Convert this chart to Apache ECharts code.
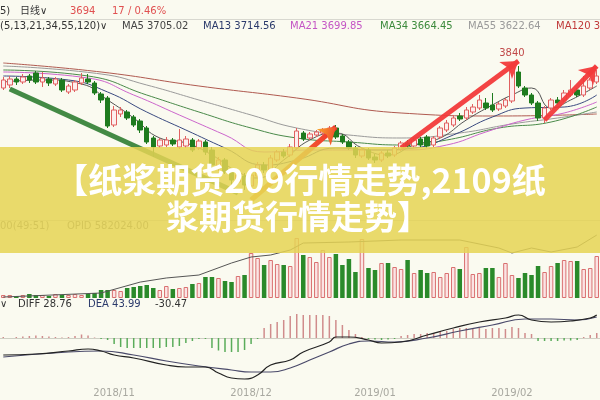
<!DOCTYPE html>
<html><head><meta charset="utf-8">
<script src="https://cdn.jsdelivr.net/npm/echarts@6/dist/echarts.min.js"></script>
<style>html,body{margin:0;padding:0;background:#fafaf0;}#c{width:600px;height:400px;}</style>
</head><body><div id="c"></div>
<script>
// ---- data ----
const tickIndex = [17, 38, 57, 78];
const tickLabels = ['2018/11', '2018/12', '2019/01', '2019/02'];
// [open, close, low, high]
const candles = [
[3710,3750,3700,3765],[3725,3755,3710,3770],[3755,3740,3725,3765],[3740,3765,3730,3780],
[3770,3750,3735,3780],[3785,3740,3730,3795],[3740,3760,3715,3790],[3755,3735,3720,3765],
[3730,3755,3720,3765],[3750,3700,3690,3760],[3690,3720,3680,3730],[3700,3740,3690,3750],
[3735,3760,3725,3785],[3755,3740,3730,3780],[3735,3685,3675,3745],[3680,3650,3635,3690],
[3660,3520,3510,3670],[3525,3600,3515,3620],[3580,3600,3565,3615],[3590,3560,3550,3600],
[3565,3525,3515,3575],[3545,3500,3485,3555],[3510,3440,3430,3520],[3460,3415,3365,3470],
[3420,3450,3410,3460],[3425,3450,3415,3465],[3450,3430,3420,3460],[3415,3450,3405,3505],
[3420,3455,3410,3470],[3450,3400,3390,3460],[3410,3445,3400,3455],[3440,3390,3375,3450],
[3400,3325,3300,3415],[3310,3350,3295,3365],[3350,3290,3280,3360],[3290,3250,3225,3300],
[3240,3275,3230,3290],[3270,3225,3200,3285],[3220,3275,3190,3290],[3270,3325,3260,3340],
[3325,3300,3285,3340],[3300,3360,3290,3375],[3350,3390,3340,3400],[3390,3370,3360,3405],
[3375,3415,3365,3430],[3410,3495,3400,3510],[3485,3455,3445,3495],[3460,3480,3450,3490],
[3475,3490,3465,3500],[3485,3500,3475,3510],[3495,3510,3485,3520],[3510,3465,3455,3525],
[3470,3440,3430,3480],[3440,3410,3400,3450],[3410,3375,3360,3420],[3370,3400,3360,3410],
[3400,3360,3350,3410],[3365,3350,3335,3380],[3350,3385,3340,3395],[3385,3370,3360,3400],
[3375,3410,3365,3420],[3405,3435,3395,3445],[3435,3420,3410,3450],[3420,3450,3410,3460],
[3455,3425,3415,3465],[3465,3420,3410,3475],[3425,3460,3415,3470],[3465,3510,3455,3520],
[3500,3535,3490,3550],[3525,3560,3515,3575],[3570,3555,3545,3585],[3560,3600,3550,3615],
[3590,3615,3580,3630],[3610,3650,3600,3675],[3635,3610,3600,3660],[3625,3600,3590,3685],
[3605,3630,3595,3640],[3620,3650,3610,3660],[3645,3810,3635,3840],[3790,3720,3710,3820],
[3710,3675,3665,3720],[3675,3635,3625,3685],[3635,3560,3545,3645],[3560,3610,3535,3620],
[3610,3650,3600,3660],[3650,3635,3625,3665],[3650,3685,3640,3700],[3675,3700,3665,3750],
[3700,3675,3665,3710],[3675,3720,3665,3770],[3710,3750,3700,3760],[3740,3770,3730,3800]
];
// moving averages: [index, value]
const ma5 = [[0,3740],[6,3750],[12,3730],[16,3650],[20,3560],[24,3460],[28,3435],[32,3375],[36,3290],[39,3260],[43,3350],[47,3450],[51,3485],[55,3410],[59,3375],[63,3425],[67,3460],[71,3550],[75,3625],[78,3675],[81,3710],[84,3610],[87,3650],[91,3720]];
const ma13 = [[0,3770],[10,3750],[16,3690],[22,3590],[28,3500],[34,3410],[40,3325],[45,3350],[51,3410],[57,3400],[63,3410],[69,3475],[75,3565],[80,3610],[86,3615],[91,3675]];
const ma21 = [[0,3790],[13,3760],[20,3675],[27,3575],[34,3475],[40,3390],[47,3400],[54,3400],[61,3400],[68,3425],[74,3490],[80,3550],[86,3585],[91,3640]];
const ma34 = [[0,3800],[13,3770],[22,3675],[30,3590],[38,3510],[45,3460],[53,3440],[61,3425],[68,3450],[76,3510],[84,3540],[91,3615]];
const ma55 = [[0,3820],[15,3780],[22,3725],[30,3650],[38,3575],[45,3510],[53,3475],[61,3460],[70,3485],[78,3530],[85,3560],[91,3590]];
const ma120 = [[0,3835],[15,3790],[30,3720],[45,3660],[61,3585],[76,3570],[91,3580]];
const volumes = [15000,15000,10000,15000,20000,15000,15000,10000,20000,15000,15000,20000,15000,20000,25000,
40000,40000,40000,35000,50000,55000,60000,65000,50000,40000,60000,45000,50000,55000,70000,75000,
105000,105000,100000,85000,80000,110000,115000,225000,200000,165000,190000,170000,165000,160000,
300000,215000,205000,180000,240000,205000,220000,165000,195000,130000,295000,150000,140000,175000,
175000,155000,145000,190000,125000,140000,125000,130000,105000,125000,155000,145000,255000,120000,
125000,150000,150000,105000,175000,115000,100000,125000,115000,160000,130000,160000,175000,190000,
185000,185000,145000,150000,210000];
const openInterest = [[0,107500],[15,137600],[21,220000],[25,250600],[30,273000],[35,363500],[38,408700],[41,423700],[44,461400],[46,514000],[53,521600],[61,536700],[70,536700],[76,476400],[78,438800],[81,476400],[84,446300],[88,484000],[91,574000]];
const diff = [[0,-68],[5,-64],[10,-52],[13,-44],[15,-52],[17,-68],[20,-80],[25,-108],[28,-116],[31,-116],[33,-140],[35,-160],[37,-164],[39,-148],[41,-108],[44,-88],[46,-56],[50,-16],[51,4],[53,4],[56,-8],[58,-20],[61,-16],[65,12],[69,40],[73,64],[77,80],[79,92],[81,72],[84,64],[87,68],[90,80],[91,92]];
const dea = [[0,-76],[10,-56],[15,-52],[20,-68],[25,-92],[30,-112],[35,-128],[38,-136],[41,-136],[44,-120],[47,-88],[50,-56],[53,-24],[56,-12],[60,-16],[65,0],[70,28],[75,52],[80,76],[84,76],[88,72],[91,84]];
const macdHist = [4,0,4,6,8,10,8,6,4,2,4,8,14,10,2,-4,-8,-24,-36,-40,-40,-40,-40,-40,-40,-36,-36,-32,-20,-12,-4,-4,-40,-50,-56,-56,-56,-48,-24,-4,40,56,64,72,88,96,92,92,92,92,88,72,52,32,16,4,-4,-6,-8,-6,-4,8,12,16,16,20,20,24,28,36,40,40,40,40,36,40,40,36,44,40,20,16,-12,-12,-12,-12,-10,-10,-8,4,12,20];
// trend arrows: [startIndex, startPrice, endIndex, endPrice]
const arrowDown = [1, 3705, 36, 3185];
const arrowsUp = [[38, 3150, 51, 3515], [61, 3410, 79, 3845], [83, 3550, 91.4, 3820]];
const priceGridLevel = 3815;
const header1 = [['5)', '#333'], ['日线∨', '#333'], ['3694', '#e05050'], ['17 / 0.46%', '#e05050']];
const header2 = [['(5,13,21,34,55,120)∨', '#333'], ['MA5 3705.02', '#444'], ['MA13 3714.56', '#2b3a6b'], ['MA21 3699.85', '#c455c4'], ['MA34 3664.45', '#3c8a3c'], ['MA55 3622.64', '#9a9a9a'], ['MA120 3582.17', '#c03a3a']];
const volHeader = [['00(49:51)', '#777'], ['OPID 582024.00', '#777']];
const macdHeader = [['∨', '#333'], ['DIFF 28.76', '#333'], ['DEA 43.99', '#2b3a6b'], ['-30.47', '#333']];
const titleLines = ['【纸浆期货209行情走势,2109纸', '浆期货行情走势】'];

// ---- chart ----
const categories = candles.map((_, i) => i);
const chart = echarts.init(document.getElementById('c'));
const upC = '#e06060', downC = '#1e7b1e';
let peakIdx = 0;
candles.forEach((c, i) => { if (c[3] > candles[peakIdx][3]) peakIdx = i; });

function headerTexts(items, xs, y) {
  return items.map((it, k) => ({
    type: 'text', left: xs[k], top: y, z: 50,
    style: { text: it[0], fill: it[1], font: '10px "DejaVu Sans", "Noto Sans CJK SC"' }
  }));
}
const lineMA = (name, data, color) => ({
  name, type: 'line', xAxisIndex: 0, yAxisIndex: 0, data, smooth: true, showSymbol: false,
  lineStyle: { width: 1, color }, silent: true, z: 3
});
const redArrowStyle = { color: '#f23a3a', width: 5, type: 'solid', opacity: 0.95 };
const orangeGrad = new echarts.graphic.LinearGradient(0, 1, 1, 0, [{ offset: 0, color: '#f7a52a' }, { offset: 1, color: '#f03030' }]);

const option = {
  animation: false,
  backgroundColor: '#fafaf0',
  grid: [
    { left: 0, right: 0, top: 40, height: 190 },
    { left: 0, right: 0, top: 230, height: 68 },
    { left: 0, right: 0, top: 310, height: 73 }
  ],
  xAxis: [0, 1, 2].map(g => ({
    type: 'category', gridIndex: g, data: categories, boundaryGap: true,
    show: g === 2,
    axisLine: { show: true, lineStyle: { color: '#cfcfc4' } },
    axisTick: { show: false },
    axisLabel: {
      show: g === 2, color: '#a8a8a0', fontSize: 10, margin: 5, fontFamily: 'DejaVu Sans',
      interval: (idx) => tickIndex.includes(idx),
      formatter: (v, idx) => tickLabels[tickIndex.indexOf(idx)] || ''
    },
    splitLine: { show: false }
  })),
  yAxis: [
    { gridIndex: 0, min: 3000, max: 3950, show: false, scale: true },
    { gridIndex: 1, min: 0, max: 340000, show: false },
    { gridIndex: 1, min: 100000, max: 612000, show: false },
    { gridIndex: 2, min: -180, max: 112, show: false }
  ],
  series: [
    lineMA('MA120', ma120, '#b05a50'),
    lineMA('MA55', ma55, '#9a9a9a'),
    lineMA('MA34', ma34, '#4a8a4a'),
    lineMA('MA21', ma21, '#cc66cc'),
    lineMA('MA13', ma13, '#3a4a80'),
    lineMA('MA5', ma5, '#555555'),
    {
      type: 'candlestick', xAxisIndex: 0, yAxisIndex: 0, data: candles, barWidth: 5, z: 4,
      itemStyle: { color: '#fdeeee', color0: downC, borderColor: upC, borderColor0: downC, borderWidth: 1 },
      markPoint: {
        symbol: 'circle', symbolSize: 0, silent: true,
        data: [{ coord: [peakIdx, candles[peakIdx][3]], value: candles[peakIdx][3] }],
        label: { show: true, position: 'top', distance: 4, color: '#c04848', fontSize: 10, fontFamily: 'DejaVu Sans', formatter: '{c}' }
      },
      markLine: {
        silent: true, animation: false, label: { show: false },
        symbol: ['none', 'arrow'], symbolSize: 16,
        data: [
          [{ yAxis: priceGridLevel, symbol: 'none', lineStyle: { color: '#dedbd0', width: 1, type: 'solid' } },
           { yAxis: priceGridLevel, symbol: 'none' }],
          [{ coord: [arrowDown[0], arrowDown[1]], symbol: 'none', lineStyle: { color: '#2f7d32', width: 5, type: 'solid', opacity: 0.9 } },
           { coord: [arrowDown[2], arrowDown[3]], symbol: 'none' }],
          [{ coord: [arrowsUp[0][0], arrowsUp[0][1]], symbol: 'none', lineStyle: { color: orangeGrad, width: 5, type: 'solid' } },
           { coord: [arrowsUp[0][2], arrowsUp[0][3]], symbol: 'arrow', symbolSize: 16 }],
          [{ coord: [arrowsUp[1][0], arrowsUp[1][1]], symbol: 'none', lineStyle: redArrowStyle },
           { coord: [arrowsUp[1][2], arrowsUp[1][3]], symbol: 'arrow', symbolSize: 16 }],
          [{ coord: [arrowsUp[2][0], arrowsUp[2][1]], symbol: 'none', lineStyle: redArrowStyle },
           { coord: [arrowsUp[2][2], arrowsUp[2][3]], symbol: 'arrow', symbolSize: 16 }]
        ]
      }
    },
    {
      type: 'bar', xAxisIndex: 1, yAxisIndex: 1, barWidth: 4.5,
      data: volumes.map((v, i) => ({
        value: v,
        itemStyle: candles[i][1] >= candles[i][0]
          ? { color: '#fbe4e4', borderColor: '#d97070', borderWidth: 1 }
          : { color: '#2a8a2a', borderColor: '#2a8a2a', borderWidth: 0 }
      }))
    },
    {
      type: 'line', xAxisIndex: 1, yAxisIndex: 2, data: openInterest, showSymbol: false,
      lineStyle: { width: 1, color: '#555' }, z: 5
    },
    {
      type: 'bar', xAxisIndex: 2, yAxisIndex: 3, barWidth: 1.5,
      data: macdHist.map(v => ({ value: v, itemStyle: { color: v >= 0 ? '#d08c8c' : '#5aac5a' } }))
    },
    {
      type: 'line', xAxisIndex: 2, yAxisIndex: 3, data: dea, smooth: true, showSymbol: false,
      lineStyle: { width: 1.2, color: '#4a4a6a' }
    },
    {
      type: 'line', xAxisIndex: 2, yAxisIndex: 3, data: diff, smooth: true, showSymbol: false,
      lineStyle: { width: 1.2, color: '#222' }
    }
  ],
  graphic: [
    { type: 'line', shape: { x1: 0, y1: 19.5, x2: 600, y2: 19.5 }, style: { stroke: '#d8d8d0', lineWidth: 1 }, z: 40 },
    { type: 'line', shape: { x1: 0, y1: 220.5, x2: 600, y2: 220.5 }, style: { stroke: '#d8d8d0', lineWidth: 1 }, z: 40 },
    ...headerTexts(header1, [0, 20, 70, 112], 6),
    ...headerTexts(header2, [0, 122, 203, 290, 380, 468, 556], 21),
    ...headerTexts(volHeader, [0, 67], 221),
    ...headerTexts(macdHeader, [0, 18, 88, 155], 299),
    { type: 'rect', shape: { x: 0, y: 147, width: 600, height: 106 }, style: { fill: 'rgba(229,211,84,0.85)' }, z: 100 },
    { type: 'text', x: 300, y: 180, z: 101, style: { text: titleLines[0], fill: '#ffffff', textAlign: 'center', textVerticalAlign: 'middle', font: 'bold 34px "Noto Sans CJK SC"' } },
    { type: 'text', x: 298, y: 216, z: 101, style: { text: titleLines[1], fill: '#ffffff', textAlign: 'center', textVerticalAlign: 'middle', font: 'bold 33px "Noto Sans CJK SC"' } }
  ]
};
chart.setOption(option);
</script></body></html>
